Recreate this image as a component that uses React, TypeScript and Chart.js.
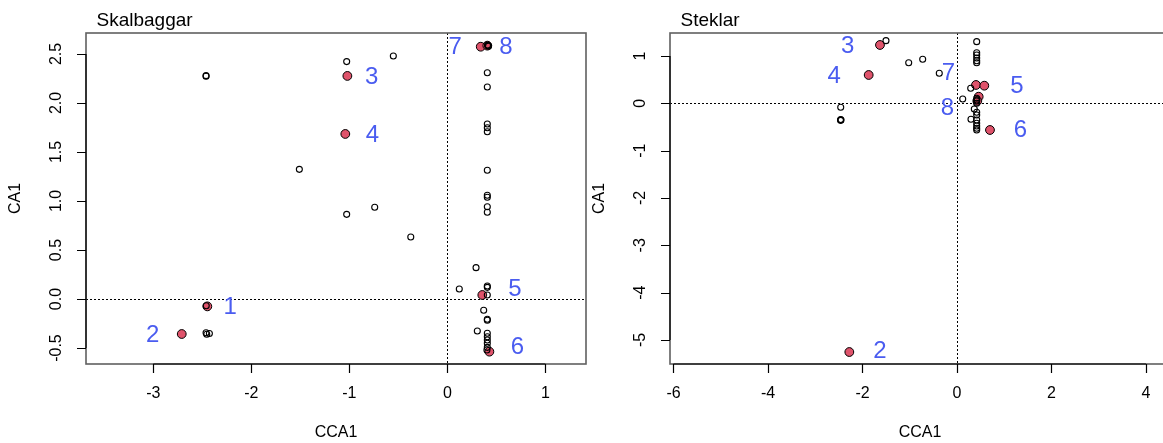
import React, { useEffect, useRef } from "react";
import { Chart, registerables } from "chart.js";
Chart.register(...registerables);

// ---------- Skalbaggar (left) ----------
const skalOpenX = [-2.462, -2.462, -1.027, -0.551, -1.51, -1.027, -0.741, -0.373, -2.46, -2.462, -2.428, -2.455,
  0.41, 0.415, 0.42, 0.408, 0.408, 0.408, 0.408, 0.408, 0.408, 0.408, 0.408, 0.408, 0.408,
  0.293, 0.122, 0.408, 0.408, 0.408, 0.371, 0.408, 0.408, 0.306, 0.408, 0.408, 0.408, 0.408, 0.408, 0.404];
const skalOpenY = [2.279, 2.272, 2.422, 2.48, 1.323, 0.864, 0.936, 0.633, -0.068, -0.344, -0.352, -0.36,
  2.59, 2.585, 2.58, 2.309, 2.163, 1.786, 1.748, 1.707, 1.313, 1.058, 1.038, 0.942, 0.885,
  0.32, 0.102, 0.133, 0.119, 0.041, -0.115, -0.207, -0.217, -0.327, -0.35, -0.385, -0.418, -0.452, -0.493, -0.52];
const skalRedX = [-2.449, -2.71, -1.02, -1.041, 0.357, 0.429, 0.341, 0.408];
const skalRedY = [-0.075, -0.357, 2.276, 1.684, 0.041, -0.537, 2.574, 2.585];
const skalLabels = ["1", "2", "3", "4", "5", "6", "7", "8"];
const skalLabelX = [-2.217, -3.006, -0.771, -0.765, 0.691, 0.714, 0.079, 0.599];
const skalLabelY = [-0.071, -0.357, 2.276, 1.684, 0.109, -0.487, 2.574, 2.574];
const skalXTicks = [-3, -2, -1, 0, 1];
const skalYTicks = [-0.5, 0.0, 0.5, 1.0, 1.5, 2.0, 2.5];
const skalYTickLabels = ["-0.5", "0.0", "0.5", "1.0", "1.5", "2.0", "2.5"];

// ---------- Steklar (right) ----------
const stekOpenX = [-1.503, -1.022, -0.726, -0.375, -2.461, -2.461, -2.455, -2.465,
  0.417, 0.417, 0.417, 0.417, 0.417, 0.417, 0.29, 0.121, 0.417, 0.417, 0.417, 0.42,
  0.366, 0.417, 0.417, 0.296, 0.417, 0.417, 0.417, 0.417, 0.417];
const stekOpenY = [1.323, 0.858, 0.93, 0.634, -0.085, -0.345, -0.355, -0.36,
  1.302, 1.069, 1.02, 0.957, 0.9, 0.858, 0.317, 0.091, 0.106, 0.049, 0.0, 0.07,
  -0.12, -0.19, -0.247, -0.338, -0.353, -0.423, -0.48, -0.528, -0.564];
const stekRedX = [-1.63, -1.869, -2.279, 0.402, 0.578, 0.459, 0.698, 0.43];
const stekRedY = [1.232, 0.598, -5.255, 0.387, 0.372, 0.139, -0.564, 0.05];
const stekLabels = ["3", "4", "2", "5", "6", "7", "8"];
const stekLabelX = [-2.313, -2.597, -1.63, 1.27, 1.34, -0.184, -0.205];
const stekLabelY = [1.232, 0.583, -5.215, 0.37, -0.553, 0.655, -0.078];
const stekXTicks = [-6, -4, -2, 0, 2, 4];
const stekYTicks = [-5, -4, -3, -2, -1, 0, 1];
const stekYTickLabels = ["-5", "-4", "-3", "-2", "-1", "0", "1"];

const FONT = '"Liberation Sans", Arial, Helvetica, sans-serif';
const RED = "#DF536B";
const BLUE = "#4A5CF0";

type Panel = {
  title: string;
  openX: number[]; openY: number[];
  redX: number[]; redY: number[];
  labels: string[]; labelX: number[]; labelY: number[];
  xTicks: number[]; yTicks: number[]; yTickLabels: string[];
  xMin: number; xMax: number; yMin: number; yMax: number;
  pad: { left: number; right: number; top: number; bottom: number };
  width: number;
};

function makePlugin(p: Panel) {
  return {
    id: "rstyle",
    beforeDatasetsDraw(chart: any) {
      const { ctx, chartArea: a, scales } = chart;
      const x = scales.x, y = scales.y;
      ctx.save();
      ctx.strokeStyle = "#000";
      ctx.lineWidth = 1;
      ctx.setLineDash([2, 2]);
      const px = Math.round(x.getPixelForValue(0)) + 0.5;
      const py = Math.round(y.getPixelForValue(0)) + 0.5;
      ctx.beginPath();
      ctx.moveTo(px, a.top); ctx.lineTo(px, a.bottom);
      ctx.moveTo(a.left, py); ctx.lineTo(a.right, py);
      ctx.stroke();
      ctx.restore();
    },
    afterDatasetsDraw(chart: any) {
      const { ctx, chartArea: a, scales } = chart;
      const x = scales.x, y = scales.y;
      ctx.save();
      // number labels
      ctx.fillStyle = BLUE;
      ctx.font = `24px ${FONT}`;
      ctx.textAlign = "center";
      ctx.textBaseline = "middle";
      p.labels.forEach((t, i) => {
        ctx.fillText(t, x.getPixelForValue(p.labelX[i]), y.getPixelForValue(p.labelY[i]) + 1);
      });
      // box
      ctx.strokeStyle = "#606060";
      ctx.lineWidth = 1.6;
      ctx.strokeRect(a.left, a.top, a.right - a.left, a.bottom - a.top);
      // axes
      ctx.strokeStyle = "#000";
      ctx.lineWidth = 1.2;
      ctx.beginPath();
      const xf = x.getPixelForValue(p.xTicks[0]);
      const xl = x.getPixelForValue(p.xTicks[p.xTicks.length - 1]);
      ctx.moveTo(xf, a.bottom); ctx.lineTo(xl, a.bottom);
      p.xTicks.forEach((v) => {
        const xx = Math.round(x.getPixelForValue(v)) + 0.5;
        ctx.moveTo(xx, a.bottom); ctx.lineTo(xx, a.bottom + 9);
      });
      const yf = y.getPixelForValue(p.yTicks[0]);
      const yl = y.getPixelForValue(p.yTicks[p.yTicks.length - 1]);
      ctx.moveTo(a.left, yf); ctx.lineTo(a.left, yl);
      p.yTicks.forEach((v) => {
        const yy = Math.round(y.getPixelForValue(v)) + 0.5;
        ctx.moveTo(a.left, yy); ctx.lineTo(a.left - 9, yy);
      });
      ctx.stroke();
      // tick labels
      ctx.fillStyle = "#000";
      ctx.font = `16px ${FONT}`;
      ctx.textAlign = "center";
      ctx.textBaseline = "middle";
      p.xTicks.forEach((v) => {
        ctx.fillText(String(v), x.getPixelForValue(v), a.bottom + 30);
      });
      p.yTicks.forEach((v, i) => {
        ctx.save();
        ctx.translate(a.left - 29, y.getPixelForValue(v));
        ctx.rotate(-Math.PI / 2);
        ctx.fillText(p.yTickLabels[i], 0, 0);
        ctx.restore();
      });
      // axis titles
      ctx.fillText("CCA1", (a.left + a.right) / 2, 433);
      ctx.save();
      ctx.translate(a.left - 70, (a.top + a.bottom) / 2);
      ctx.rotate(-Math.PI / 2);
      ctx.fillText("CA1", 0, 0);
      ctx.restore();
      // main title
      ctx.font = `19px ${FONT}`;
      ctx.textAlign = "left";
      ctx.textBaseline = "alphabetic";
      ctx.fillText(p.title, a.left + 10.5, 25.7);
      ctx.restore();
    },
  };
}

function PanelChart({ p, left }: { p: Panel; left: number }) {
  const ref = useRef<HTMLCanvasElement>(null);
  useEffect(() => {
    if (!ref.current) return;
    const chart = new Chart(ref.current, {
      type: "scatter",
      data: {
        datasets: [
          {
            data: p.openX.map((v, i) => ({ x: v, y: p.openY[i] })),
            pointRadius: 3,
            pointBorderWidth: 1.1,
            pointBorderColor: "#000",
            pointBackgroundColor: "rgba(0,0,0,0)",
            showLine: false,
            order: 0,
          },
          {
            data: p.redX.map((v, i) => ({ x: v, y: p.redY[i] })),
            pointRadius: 4.4,
            pointBorderWidth: 1,
            pointBorderColor: "#000",
            pointBackgroundColor: RED,
            showLine: false,
            order: 1,
          },
        ],
      },
      options: {
        animation: false,
        responsive: false,
        maintainAspectRatio: false,
        events: [],
        layout: { padding: p.pad },
        plugins: { legend: { display: false }, tooltip: { enabled: false } },
        scales: {
          x: { type: "linear", min: p.xMin, max: p.xMax, display: false },
          y: { type: "linear", min: p.yMin, max: p.yMax, display: false },
        },
      },
      plugins: [makePlugin(p)],
    });
    return () => chart.destroy();
  }, []);
  return (
    <canvas
      ref={ref}
      width={p.width}
      height={443}
      style={{ position: "absolute", left, top: 0, width: p.width, height: 443 }}
    />
  );
}

const skal: Panel = {
  title: "Skalbaggar",
  openX: skalOpenX, openY: skalOpenY, redX: skalRedX, redY: skalRedY,
  labels: skalLabels, labelX: skalLabelX, labelY: skalLabelY,
  xTicks: skalXTicks, yTicks: skalYTicks, yTickLabels: skalYTickLabels,
  xMin: -3.687, xMax: 1.415, yMin: -0.663, yMax: 2.714,
  pad: { left: 86, right: 14, top: 33, bottom: 79 },
  width: 600,
};

const stek: Panel = {
  title: "Steklar",
  openX: stekOpenX, openY: stekOpenY, redX: stekRedX, redY: stekRedY,
  labels: stekLabels, labelX: stekLabelX, labelY: stekLabelY,
  xTicks: stekXTicks, yTicks: stekYTicks, yTickLabels: stekYTickLabels,
  xMin: -6.074, xMax: 4.508, yMin: -5.508, yMax: 1.485,
  pad: { left: 90, right: 30, top: 33, bottom: 79 },
  width: 620,
};

export default function App() {
  return (
    <div style={{ position: "fixed", left: 0, top: 0, width: 1163, height: 443, overflow: "hidden", background: "#fff" }}>
      <PanelChart p={skal} left={0} />
      <PanelChart p={stek} left={580} />
    </div>
  );
}
